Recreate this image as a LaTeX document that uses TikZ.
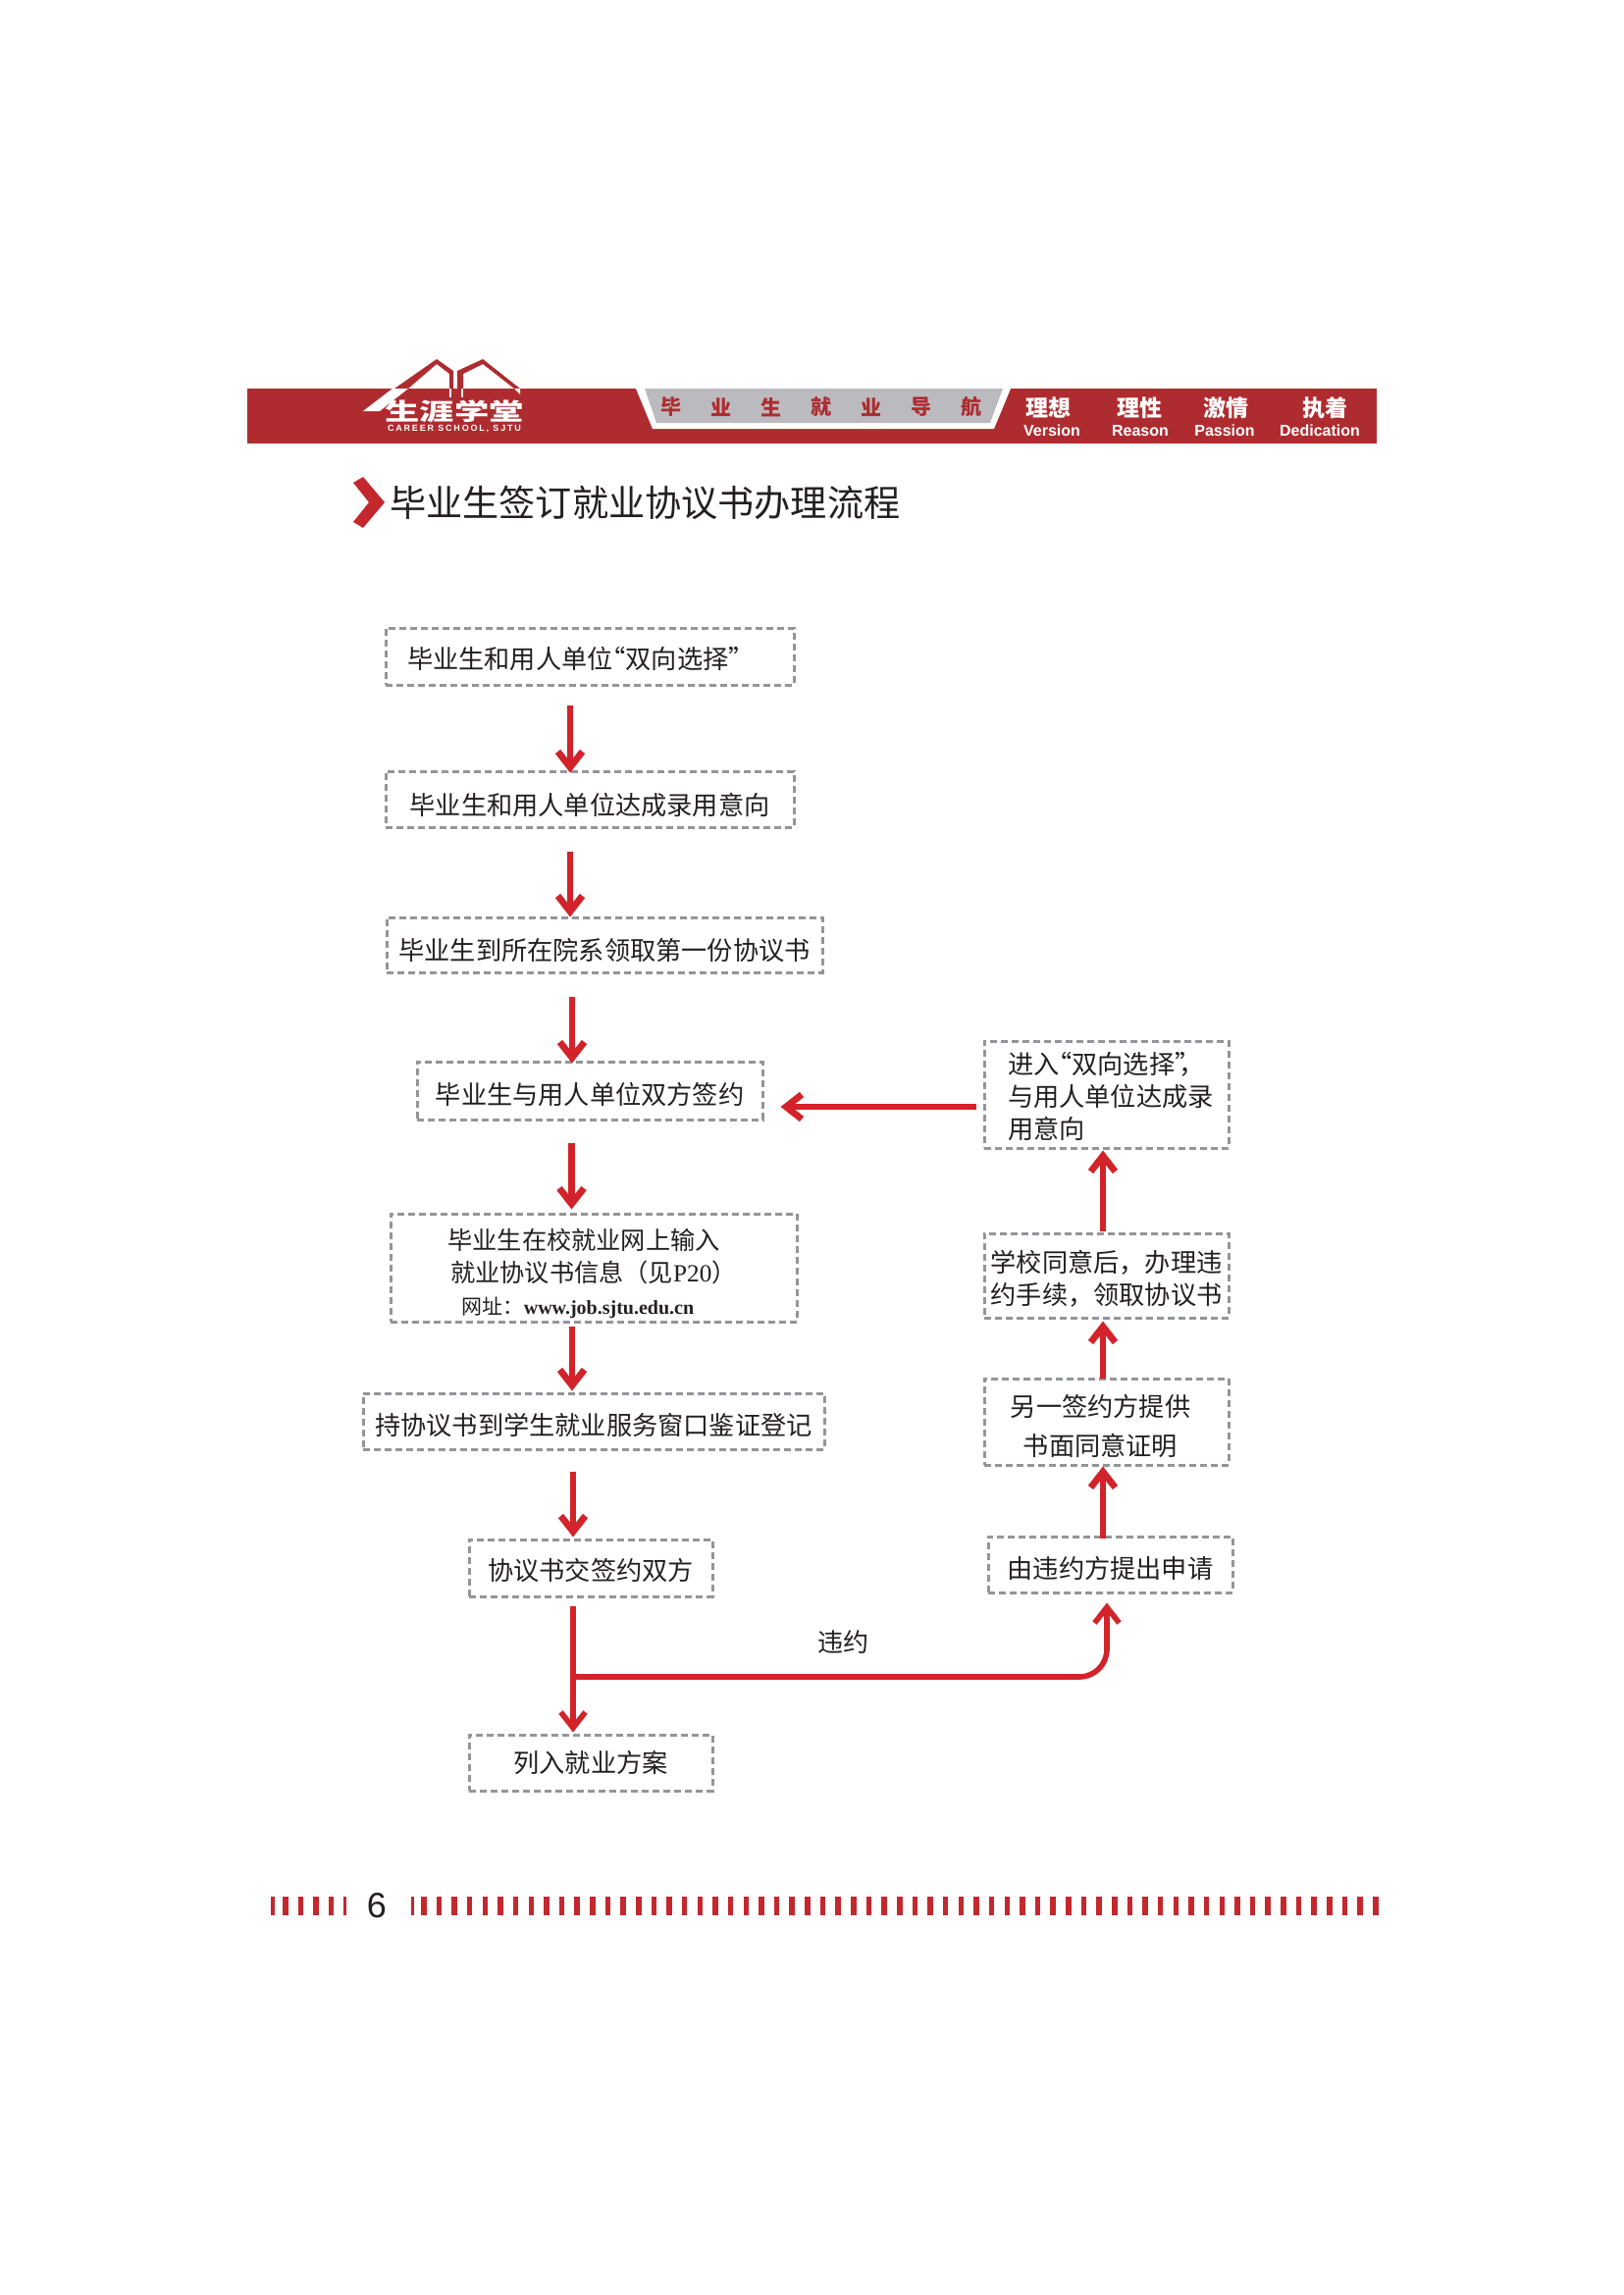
\documentclass[tikz,border=0pt]{standalone}
\usepackage{fontspec}
\usepackage{graphicx}
\setmainfont{Noto Sans CJK SC}
\newfontfamily\latinserif{Liberation Serif}
\newfontfamily\latinsans{Liberation Sans}
\usetikzlibrary{arrows.meta}
\definecolor{bandred}{HTML}{AE2C2F}
\definecolor{flowred}{HTML}{D2232A}
\definecolor{tickred}{HTML}{C4272E}
\definecolor{boxgray}{HTML}{939598}
\definecolor{panelgray}{HTML}{BBBBBF}
\definecolor{inkblack}{HTML}{231F20}

\begin{document}
\begin{tikzpicture}[x=0.5pt,y=-0.5pt,>={Straight Barb[length=8pt,width=12.5pt]},
    main node/.style={draw=boxgray,line width=1.5pt,dash pattern=on 3.5pt off 2pt,inner sep=0pt,text=inkblack,align=center,font=\fontsize{13.1}{16.5}\selectfont},
    drop/.style={execute at begin node={\rule{0pt}{#1}}},
    flow line/.style={->,draw=flowred,line width=3.4pt},
    band cn/.style={text=white,font=\fontsize{11.5}{12}\selectfont\bfseries},
    band en/.style={text=white,font=\fontsize{8}{9}\selectfont\latinsans\bfseries},
    band nav/.style={text=bandred,font=\fontsize{10.5}{11}\selectfont\bfseries}]
  \useasboundingbox (0,0) rectangle (1654,2339);

  % top band
  \fill[bandred] (252,396) rectangle (1403,452);
  \fill[white] (648,396) -- (1030,396) -- (1013,437) -- (665,437) -- cycle;
  \fill[panelgray] (657,396) -- (1022,396) -- (1009,431) -- (669,431) -- cycle;
  \node[band nav] (n1) at (684,415) {毕};
  \node[band nav] (n2) at (735,415) {业};
  \node[band nav] (n3) at (786,415) {生};
  \node[band nav] (n4) at (837,415) {就};
  \node[band nav] (n5) at (888,415) {业};
  \node[band nav] (n6) at (939,415) {导};
  \node[band nav] (n7) at (990,415) {航};
  \node[band cn] (v1) at (1068,416) {理想};
  \node[band cn] (v2) at (1161,416) {理性};
  \node[band cn] (v3) at (1249,416) {激情};
  \node[band cn] (v4) at (1350,416) {执着};
  \node[band en] (w1) at (1072,439) {Version};
  \node[band en] (w2) at (1162,439) {Reason};
  \node[band en] (w3) at (1248,439) {Passion};
  \node[band en] (w4) at (1345,439) {Dedication};

  % logo
  \fill[bandred] (402,396) -- (445,366) -- (462,378) -- (462,396) -- (458,396) -- (458,381) -- (445,371) -- (416,396) -- cycle;
  \fill[bandred] (466,396) -- (466,378) -- (492,366) -- (530,396) -- (524,396) -- (492,371) -- (472,381) -- (472,396) -- cycle;
  \fill[white] (370,419) -- (400,396) -- (416,396) -- (387,419) -- cycle;
  \fill[white] (458,396) rectangle (460,405);
  \fill[white] (470,396) rectangle (472,405);
  \fill[white] (530,396) -- (530,402) -- (524,396) -- cycle;
  \node[text=white,font=\fontsize{12}{12}\selectfont\bfseries] (logo) at (463,419) {\scalebox{1.47}[1]{生涯学堂}};
  \node[text=white,font=\fontsize{4.5}{5}\selectfont\latinsans\bfseries\addfontfeature{LetterSpace=20}] (school) at (463,437) {CAREER SCHOOL, SJTU};

  % title
  \fill[tickred] (360,492) -- (370,486) -- (392,512) -- (370,538) -- (360,532) -- (376,512) -- cycle;
  \node[anchor=west,inner sep=0pt,text=inkblack,font=\fontsize{18.57}{20}\selectfont] (title) at (397,512) {毕业生签订就业协议书办理流程};

  % left column
  \node[main node,drop=13.9pt,minimum width=208pt,minimum height=29pt,text width=186pt,inner xsep=11pt,align=left] (a) at (601,669) {毕业生和用人单位\kern-.5em“双向选择”};
  \node[main node,drop=16.9pt,minimum width=208pt,minimum height=28.5pt] (b) at (601,814.5) {毕业生和用人单位达成录用意向};
  \node[main node,drop=16.9pt,minimum width=222pt,minimum height=28pt] (c) at (616,963) {毕业生到所在院系领取第一份协议书};
  \node[main node,drop=15.4pt,minimum width=176pt,minimum height=29.5pt] (d) at (601,1111.5) {毕业生与用人单位双方签约};
  \node[main node,minimum width=207pt,minimum height=55pt,font=\fontsize{12.6}{16.5}\selectfont] (e) at (605,1292) {\rule{0pt}{16.2pt}毕业生在校就业网上输入\hspace*{10pt}\\就业协议书信息（见{\latinserif P20}）\hspace*{12pt}\\{\fontsize{10.5}{16.5}\selectfont 网址：{\fontsize{10}{16.5}\selectfont\latinserif\bfseries www.job.sjtu.edu.cn}}\hspace*{16pt}};
  \node[main node,drop=15.4pt,minimum width=235pt,minimum height=28.5pt] (f) at (605,1448.5) {持协议书到学生就业服务窗口鉴证登记};
  \node[main node,drop=13.9pt,minimum width=124pt,minimum height=29pt] (g) at (602,1598) {协议书交签约双方};
  \node[main node,minimum width=124pt,minimum height=28.5pt] (h) at (602,1796.5) {列入就业方案};

  % right column
  \node[main node,drop=13.1pt,minimum width=124.5pt,minimum height=54.5pt,text width=100.5pt,inner xsep=12pt,align=left] (p) at (1127.5,1115.5) {进入\kern-.5em“双向选择”\kern-.85em，\\与用人单位达成录\\用意向};
  \node[main node,minimum width=124.5pt,minimum height=43pt] (q) at (1127.5,1300) {\rule{0pt}{13.9pt}学校同意后，办理违\\约手续，领取协议书};
  \node[main node,minimum width=124.5pt,minimum height=44pt] (r) at (1127.5,1449) {\rule{0pt}{15.4pt}另一签约方提供\hspace*{6pt}\\[3.5pt]书面同意证明\hspace*{6pt}};
  \node[main node,drop=15.4pt,minimum width=124.5pt,minimum height=28.5pt] (s) at (1131.5,1594.5) {由违约方提出申请};

  \draw[flow line,shorten <=9.5pt,shorten >=-1.5pt] ([xshift=-10pt]a.south) -- ([xshift=-10pt]b.north);
  \draw[flow line,shorten <=11.5pt,shorten >=-.5pt] ([xshift=-10pt]b.south) -- ([xshift=-17.5pt]c.north);
  \draw[flow line,shorten <=11.5pt,shorten >=-1.5pt] ([xshift=-16.5pt]c.south) -- ([xshift=-9pt]d.north);
  \draw[flow line,shorten <=11pt,shorten >=1.5pt] ([xshift=-9.25pt]d.south) -- ([xshift=-11.25pt]e.north);
  \draw[flow line,shorten <=1.5pt,shorten >=.5pt] ([xshift=-11pt]e.south) -- ([xshift=-11pt]f.north);
  \draw[flow line,shorten <=10.5pt,shorten >=.5pt] ([xshift=-10.5pt]f.south) -- ([xshift=-9pt]g.north);
  \draw[flow line,line width=2.8pt,shorten <=4pt,shorten >=.5pt] ([xshift=-9pt]g.south) -- ([xshift=-9pt]h.north);

  \draw[flow line,shorten <=-1.5pt,shorten >=0pt] ([xshift=-3.75pt]s.north) -- ([xshift=-1.75pt]r.south);
  \draw[flow line,shorten <=-.5pt,shorten >=1pt] ([xshift=-1.75pt]r.north) -- ([xshift=-1.75pt]q.south);
  \draw[flow line,shorten <=.5pt,shorten >=.5pt] ([xshift=-1.75pt]q.north) -- ([xshift=-1.75pt]p.south);
  \draw[flow line,shorten <=3.5pt,shorten >=8.5pt] ([yshift=-6.25pt]p.west) -- ([yshift=-8.25pt]d.east);

  % branch to the right
  \coordinate (branch) at (584,1709);
  \draw[flow line,line width=2.8pt,rounded corners=14pt,shorten >=4.5pt] (branch) -| ([xshift=-1.75pt]s.south);
  \node[text=inkblack,font=\fontsize{13}{14}\selectfont] (break) at (859,1674) {违约};

  % page number
  \foreach \l/\w in {276/4,288/6,304/5,319/6,335/5,350/3}
    \fill[tickred] (\l,1933) rectangle (\l+\w,1952);
  \node[text=inkblack,font=\fontsize{18}{20}\selectfont\latinsans] (page) at (384,1942) {6};
  \fill[tickred] (419,1933) rectangle (422,1952);
  \foreach \i in {0,...,62}
    \fill[tickred] (429+15.645*\i,1933) rectangle (434.5+15.645*\i,1952);
\end{tikzpicture}
\end{document}
